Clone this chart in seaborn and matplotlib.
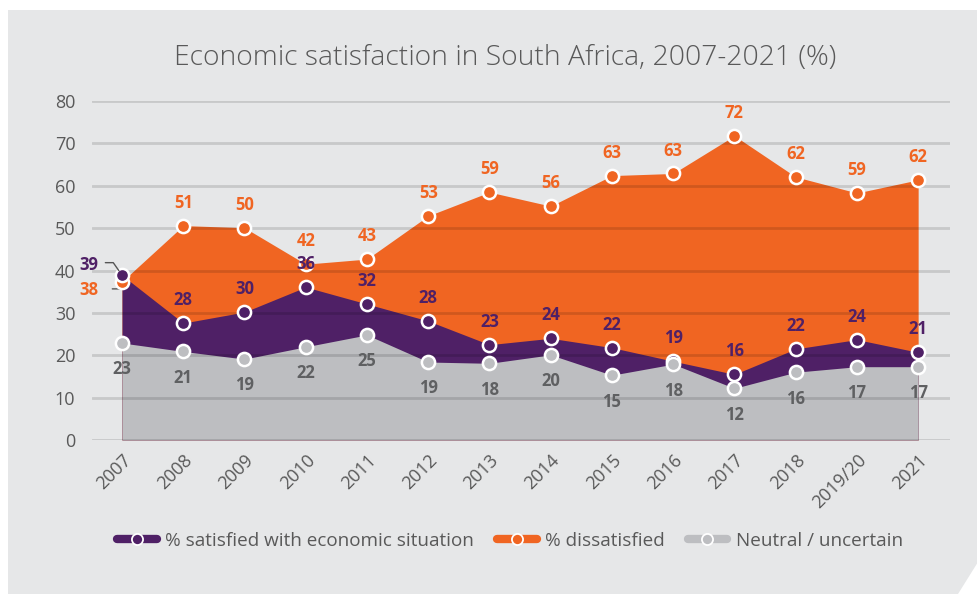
import numpy as np
import pandas as pd
import matplotlib
matplotlib.use("Agg")
import matplotlib.pyplot as plt
import matplotlib.transforms as mtransforms
import seaborn as sns
from matplotlib.lines import Line2D
from matplotlib.patches import Polygon

# ---------------- data ----------------
years = ["2007", "2008", "2009", "2010", "2011", "2012", "2013", "2014",
         "2015", "2016", "2017", "2018", "2019/20", "2021"]
satisfied = [38.9, 27.6, 30.2, 36.1, 32.1, 28.1, 22.5, 24.0, 21.8, 18.6, 15.5, 21.5, 23.7, 20.7]
dissatisfied = [37.4, 50.6, 50.1, 41.5, 42.7, 52.9, 58.5, 55.2, 62.4, 62.9, 71.8, 62.1, 58.3, 61.4]
neutral = [22.9, 20.9, 19.1, 22.0, 24.8, 18.4, 18.1, 20.1, 15.3, 17.9, 12.2, 16.0, 17.3, 17.3]
satisfied_lbl = [39, 28, 30, 36, 32, 28, 23, 24, 22, 19, 16, 22, 24, 21]
dissatisfied_lbl = [38, 51, 50, 42, 43, 53, 59, 56, 63, 63, 72, 62, 59, 62]
neutral_lbl = [23, 21, 19, 22, 25, 19, 18, 20, 15, 18, 12, 16, 17, 17]
series_names = ["% satisfied with economic situation", "% dissatisfied", "Neutral / uncertain"]
yticks = [0, 10, 20, 30, 40, 50, 60, 70, 80]
title = "Economic satisfaction in South Africa, 2007-2021 (%)"

PURPLE = "#4f2066"
ORANGE = "#f06522"
GRAY = "#bdbec1"
GRAY_TXT = "#5f6062"
TXT = "#595959"
PANEL = "#e6e7e8"

FONT = ["Open Sans", "DejaVu Sans"]

sns.set_theme(style="white")
plt.rcParams["font.family"] = FONT

fig = plt.figure(figsize=(9.78, 5.94), dpi=100, facecolor="white")
W, H = 978, 594
# background panel with cut bottom-right corner
panel = Polygon([(8 / W, 1 - 10 / H), (1.0, 1 - 10 / H), (1.0, 1 - 562 / H),
                 (958 / W, 0.0), (8 / W, 0.0)], closed=True,
                transform=fig.transFigure, facecolor=PANEL, edgecolor="none", zorder=-10)
fig.patches.append(panel)

ax = fig.add_axes([92 / W, 1 - 440 / H, (950 - 92) / W, (440 - 101) / H])
ax.set_facecolor("none")
ax.set_zorder(1)

x = np.arange(len(years))
df = pd.DataFrame({"x": x, "sat": satisfied, "dis": dissatisfied, "neu": neutral})

# overlapping areas
ax.fill_between(df["x"], 0, df["dis"], color=ORANGE, lw=0, zorder=1)
ax.fill_between(df["x"], 0, df["sat"], color=PURPLE, lw=0, zorder=1.1)
ax.fill_between(df["x"], 0, df["neu"], color=GRAY, lw=0, zorder=1.2)

mk = dict(marker="o", markersize=9.5, markeredgecolor="white", markeredgewidth=1.8, linewidth=0)
sns.lineplot(data=df, x="x", y="dis", ax=ax, color=ORANGE, markerfacecolor=ORANGE, zorder=4, **mk)
sns.lineplot(data=df, x="x", y="sat", ax=ax, color=PURPLE, markerfacecolor=PURPLE, zorder=5, **mk)
sns.lineplot(data=df, x="x", y="neu", ax=ax, color=GRAY, markerfacecolor=GRAY, zorder=6, **mk)

lblkw = dict(textcoords="offset points", ha="center", va="center",
             fontsize=12, fontweight="bold", zorder=8)
for i in range(len(years)):
    if i == 0:
        ax.annotate(str(satisfied_lbl[i]), (x[i], satisfied[i]), xytext=(-17, 7),
                    color=PURPLE, **{**lblkw, "ha": "right"})
        ax.annotate("", (x[i], satisfied[i]), xytext=(-12, 9), textcoords="offset points",
                    arrowprops=dict(arrowstyle="-", color="#555555", lw=1,
                                    connectionstyle="angle,angleA=0,angleB=125,rad=0",
                                    shrinkA=0, shrinkB=4), zorder=7)
        ax.annotate(str(dissatisfied_lbl[i]), (x[i], dissatisfied[i]), xytext=(-17, -6),
                    color=ORANGE, **{**lblkw, "ha": "right"})
        low = mtransforms.offset_copy(ax.transData, fig=fig, x=0, y=-5.3, units="points")
        ax.annotate("", (x[i], dissatisfied[i]), xycoords=low, xytext=(-7, 0),
                    textcoords="offset points",
                    arrowprops=dict(arrowstyle="-", color="#555555", lw=1,
                                    shrinkA=0, shrinkB=0), zorder=0.5)
    else:
        ax.annotate(str(dissatisfied_lbl[i]), (x[i], dissatisfied[i]), xytext=(0, 16.5),
                    color=ORANGE, **lblkw)
        ax.annotate(str(satisfied_lbl[i]), (x[i], satisfied[i]), xytext=(0, 16.5),
                    color=PURPLE, **lblkw)
    ax.annotate(str(neutral_lbl[i]), (x[i], neutral[i]), xytext=(0, -19),
                color=GRAY_TXT, **lblkw)

ax.set_xlim(-0.49, 13.52)
ax.set_ylim(0, 80)
ax.set_yticks(yticks)
ax.set_yticklabels([str(v) for v in yticks], fontsize=13, color=TXT)
ax.set_xticks(x)
ax.set_xticklabels(years, fontsize=13, color=TXT, rotation=45, ha="right",
                   rotation_mode="anchor")
ax.tick_params(axis="both", length=0)
ax.tick_params(axis="y", pad=12)
ax.tick_params(axis="x", pad=8)
ax.set_xlabel("")
ax.set_ylabel("")
for s in ax.spines.values():
    s.set_visible(False)
ax.set_axisbelow(False)
ax.grid(axis="y", color="black", alpha=0.13, lw=2)
ax.grid(axis="x", visible=False)
for gl in ax.get_ygridlines():
    gl.set_zorder(2.5)

fig.text(505 / W, 1 - 58 / H, title, ha="center", va="center", fontsize=20.3,
         color=TXT, fontweight="light")

handles = [Line2D([0], [0], color=c, lw=6, solid_capstyle="round", marker="o",
                  markersize=8, markerfacecolor=c, markeredgecolor="white", markeredgewidth=1.3)
           for c in (PURPLE, ORANGE, GRAY)]
fig.legend(handles, series_names, loc="center", bbox_to_anchor=(510 / W, 1 - 541 / H),
           ncol=3, frameon=False, fontsize=13.6, handlelength=2.1, handletextpad=0.45,
           columnspacing=1.2, labelcolor=TXT)

fig.savefig("out.png", dpi=100, facecolor="white")
